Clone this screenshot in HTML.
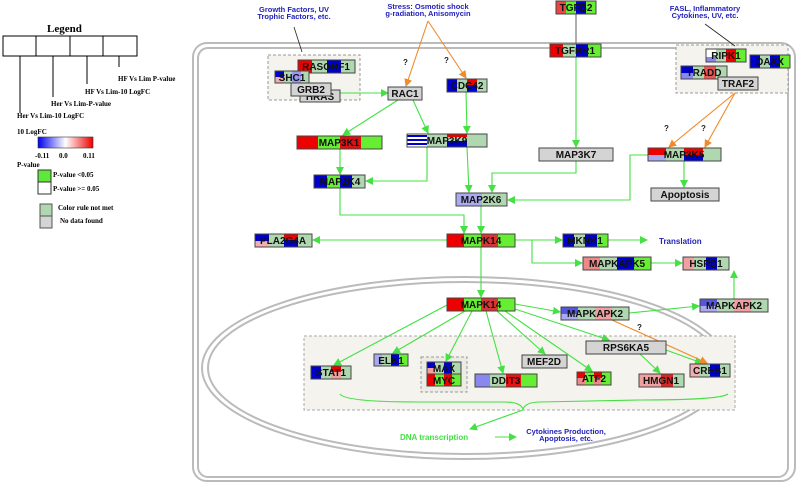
<!DOCTYPE html>
<html><head><meta charset="utf-8"><style>
html,body{margin:0;padding:0;background:#fff;}
svg{display:block;}
.n{font-family:"Liberation Sans",sans-serif;font-weight:bold;font-size:10px;fill:#111;text-anchor:middle;}
.b{font-family:"Liberation Sans",sans-serif;font-weight:bold;font-size:7.5px;fill:#2222bb;text-anchor:middle;}
.l{font-family:"Liberation Serif",serif;font-weight:bold;font-size:7px;fill:#000;}
.q{font-family:"Liberation Sans",sans-serif;font-weight:bold;font-size:8px;fill:#222;}
.g{stroke:#44e044;stroke-width:1.1;fill:none;marker-end:url(#ag);}
.o{stroke:#f08a2a;stroke-width:1.1;fill:none;marker-end:url(#ao);}
.bd{fill:none;stroke:#444;stroke-width:1;}
</style></head><body>
<svg width="797" height="483" viewBox="0 0 797 483" xmlns="http://www.w3.org/2000/svg">
<defs>
<marker id="ag" markerWidth="8" markerHeight="8" refX="7" refY="4" orient="auto" markerUnits="userSpaceOnUse"><path d="M0,0 L8,4 L0,8 z" fill="#44e044"/></marker>
<marker id="ao" markerWidth="8" markerHeight="8" refX="7" refY="4" orient="auto" markerUnits="userSpaceOnUse"><path d="M0,0 L8,4 L0,8 z" fill="#f08a2a"/></marker>
<linearGradient id="lg"><stop offset="0" stop-color="#0000ee"/><stop offset="0.5" stop-color="#ffffff"/><stop offset="1" stop-color="#ee0000"/></linearGradient>
</defs>

<!-- Legend -->
<text x="47" y="32" style="font-family:'Liberation Serif',serif;font-weight:bold;font-size:11px">Legend</text>
<rect x="3" y="36" width="134" height="20" fill="#fff" stroke="#000"/>
<line x1="36" y1="36" x2="36" y2="56" stroke="#000"/><line x1="70" y1="36" x2="70" y2="56" stroke="#000"/><line x1="103" y1="36" x2="103" y2="56" stroke="#000"/>
<line x1="20" y1="56" x2="20" y2="113" stroke="#000"/><line x1="53" y1="56" x2="53" y2="97" stroke="#000"/><line x1="87" y1="56" x2="87" y2="84" stroke="#000"/><line x1="119" y1="56" x2="119" y2="67" stroke="#000"/>
<text class="l" x="17" y="118">Her Vs Lim-10  LogFC</text>
<text class="l" x="51" y="106">Her Vs Lim-P-value</text>
<text class="l" x="85" y="94">HF Vs Lim-10  LogFC</text>
<text class="l" x="118" y="81">HF Vs Lim  P-value</text>
<text class="l" x="17" y="134">10 LogFC</text>
<rect x="38" y="137" width="55" height="11" fill="url(#lg)" stroke="#333" stroke-width="0.6"/>
<text class="l" x="35" y="158">-0.11</text><text class="l" x="59" y="158">0.0</text><text class="l" x="83" y="158">0.11</text>
<text class="l" x="17" y="167">P-value</text>
<rect x="38" y="170" width="13" height="12" fill="#5ee83a" stroke="#333"/>
<rect x="38" y="182" width="13" height="12" fill="#fff" stroke="#333"/>
<text class="l" x="53" y="177">P-value &lt;0.05</text>
<text class="l" x="53" y="191">P-value &gt;= 0.05</text>
<rect x="40" y="204" width="12" height="12" fill="#b0d8b0" stroke="#555"/>
<rect x="40" y="216" width="12" height="12" fill="#d4d4d4" stroke="#555"/>
<text class="l" x="58" y="210">Color rule not met</text>
<text class="l" x="60" y="223">No data found</text>

<!-- cell -->
<rect x="193" y="43" width="602" height="438" rx="14" fill="none" stroke="#bbb" stroke-width="2"/>
<rect x="198" y="48" width="590" height="429" rx="10" fill="none" stroke="#bbb" stroke-width="2"/>
<!-- nucleus -->
<ellipse cx="465" cy="368" rx="263" ry="91" fill="none" stroke="#bbb" stroke-width="2"/>
<ellipse cx="465" cy="368" rx="257" ry="86" fill="none" stroke="#bbb" stroke-width="2"/>
<rect x="304" y="336" width="431" height="74" fill="#f4f3ee" stroke="#aaa" stroke-dasharray="3,2"/>
<rect x="268" y="55" width="92" height="45" fill="#f4f3ee" stroke="#999" stroke-dasharray="3,2"/>
<rect x="676" y="45" width="112" height="48" fill="#f4f3ee" stroke="#999" stroke-dasharray="3,2"/>
<rect x="421" y="357" width="46" height="35" fill="#ecebe4" stroke="#999" stroke-dasharray="3,2"/>

<!-- labels -->
<text class="b" x="294" y="12">Growth Factors, UV</text><text class="b" x="294" y="19">Trophic Factors, etc.</text>
<text class="b" x="428" y="9">Stress: Osmotic shock</text><text class="b" x="428" y="16">g-radiation, Anisomycin</text>
<text class="b" x="705" y="11">FASL, Inflammatory</text><text class="b" x="705" y="18">Cytokines, UV, etc.</text>
<text x="659" y="244" style="font-family:'Liberation Sans',sans-serif;font-weight:bold;font-size:8px;fill:#2222bb">Translation</text>
<text x="400" y="440" style="font-family:'Liberation Sans',sans-serif;font-weight:bold;font-size:8px;fill:#44e044">DNA transcription</text>
<text class="b" x="566" y="434">Cytokines Production,</text><text class="b" x="566" y="441">Apoptosis, etc.</text>
<text class="q" x="403" y="65">?</text><text class="q" x="444" y="63">?</text>
<text class="q" x="664" y="131">?</text><text class="q" x="701" y="131">?</text>
<text class="q" x="637" y="330">?</text>

<!-- plain lines -->
<line x1="294" y1="27" x2="302" y2="52" stroke="#222" stroke-width="0.8"/>
<line x1="705" y1="24" x2="735" y2="46" stroke="#222" stroke-width="0.8"/>
<line x1="576" y1="14" x2="576" y2="44" stroke="#777" stroke-width="1.2"/>

<!-- edges -->
<path class="g" d="M340,93 L388,93"/>
<path class="g" d="M398,100 L343,135"/>
<path class="g" d="M413,100 L428,133"/>
<path class="g" d="M466,92 L467,133"/>
<path class="g" d="M340,149 L340,174"/>
<path class="g" d="M427,147 L427,181 L366,181"/>
<path class="g" d="M467,147 L469,192"/>
<path class="g" d="M576,161 L576,173 L492,173 L492,192"/>
<path class="g" d="M648,155 L630,155 L630,200 L508,200"/>
<path class="g" d="M576,57 L576,147"/>
<path class="g" d="M684,161 L684,187"/>
<path class="g" d="M340,188 L340,215 L464,215 L464,233"/>
<path class="g" d="M481,206 L481,233"/>
<path class="g" d="M447,240 L313,240"/>
<path class="g" d="M515,240 L562,240"/>
<path class="g" d="M532,240 L532,263 L582,263"/>
<path class="g" d="M608,240 L647,240"/>
<path class="g" d="M651,263 L682,263"/>
<path class="g" d="M481,247 L481,297"/>
<path class="g" d="M515,304 L560,312"/>
<path class="g" d="M629,313 L699,306"/>
<path class="g" d="M734,299 L734,271"/>
<path class="g" d="M447,305 L334,365"/>
<path class="g" d="M465,311 L393,353"/>
<path class="g" d="M472,311 L446,361"/>
<path class="g" d="M486,311 L503,373"/>
<path class="g" d="M497,311 L545,354"/>
<path class="g" d="M505,311 L592,371"/>
<path class="g" d="M515,309 L609,340"/>
<path class="g" d="M640,354 L660,373"/>
<path class="g" d="M666,350 L702,363"/>
<path d="M340,394 Q345,402 420,402 L505,402 Q520,402 523,409 Q526,402 540,402 L640,400 Q720,400 728,394" stroke="#44e044" stroke-width="1.1" fill="none"/>
<path class="g" d="M523,410 L470,429"/>
<path class="g" d="M495,437 L516,437"/>
<path class="o" d="M612,320 L707,363"/>
<path class="o" d="M428,21 L406,86"/>
<path class="o" d="M428,21 L466,78"/>
<path class="o" d="M735,93 L669,147"/>
<path class="o" d="M735,93 L705,147"/>

<!-- nodes -->
<!-- HRAS behind -->
<rect x="300" y="90" width="40" height="12" fill="#d4d4d4" stroke="#444"/><text class="n" x="320" y="100">HRAS</text>
<g><rect x="298" y="60" width="14" height="13" fill="#ee0000"/><rect x="312" y="60" width="15" height="13" fill="#b0d8b0"/><rect x="327" y="60" width="14" height="13" fill="#0000cc"/><rect x="341" y="60" width="14" height="13" fill="#b0d8b0"/><rect class="bd" x="298" y="60" width="57" height="13"/><text class="n" x="326" y="70">RASGRF1</text></g>
<g><rect x="275" y="71" width="9" height="6" fill="#0000cc"/><rect x="275" y="77" width="9" height="6" fill="#f0b0b0"/><rect x="284" y="71" width="8" height="12" fill="#b0d8b0"/><rect x="292" y="71" width="9" height="12" fill="#9999ee"/><rect x="301" y="71" width="8" height="12" fill="#b0d8b0"/><rect class="bd" x="275" y="71" width="34" height="12"/><text class="n" x="292" y="81">SHC1</text></g>
<g><rect x="291" y="83" width="40" height="13" fill="#d4d4d4" stroke="#444"/><text class="n" x="311" y="93">GRB2</text></g>
<g><rect x="388" y="87" width="34" height="13" fill="#d4d4d4" stroke="#444"/><text class="n" x="405" y="97">RAC1</text></g>
<g><rect x="447" y="79" width="10" height="13" fill="#0000cc"/><rect x="457" y="79" width="10" height="13" fill="#b0d8b0"/><rect x="467" y="79" width="10" height="6" fill="#ee0000"/><rect x="467" y="85" width="10" height="7" fill="#0000cc"/><rect x="477" y="79" width="10" height="13" fill="#b0d8b0"/><rect class="bd" x="447" y="79" width="40" height="13"/><text class="n" x="467" y="89">CDC42</text></g>
<g><rect x="556" y="1" width="10" height="13" fill="#ee4444"/><rect x="566" y="1" width="10" height="13" fill="#66ee33"/><rect x="576" y="1" width="10" height="13" fill="#0000cc"/><rect x="586" y="1" width="10" height="13" fill="#66ee33"/><rect class="bd" x="556" y="1" width="40" height="13"/><text class="n" x="576" y="11">TGFB2</text></g>
<g><rect x="550" y="44" width="13" height="13" fill="#ee0000"/><rect x="563" y="44" width="13" height="13" fill="#b0d8b0"/><rect x="576" y="44" width="12" height="13" fill="#0000cc"/><rect x="588" y="44" width="13" height="13" fill="#66ee33"/><rect class="bd" x="550" y="44" width="51" height="13"/><text class="n" x="575" y="54">TGFBR1</text></g>
<g><rect x="706" y="49" width="10" height="8" fill="#fff"/><rect x="706" y="57" width="10" height="5" fill="#8888ee"/><rect x="716" y="49" width="10" height="13" fill="#b0d8b0"/><rect x="726" y="49" width="10" height="13" fill="#ee0000"/><rect x="736" y="49" width="10" height="13" fill="#66ee33"/><rect class="bd" x="706" y="49" width="40" height="13"/><text class="n" x="726" y="59">RIPK1</text></g>
<g><rect x="750" y="55" width="10" height="13" fill="#0000cc"/><rect x="760" y="55" width="10" height="13" fill="#b0d8b0"/><rect x="770" y="55" width="10" height="13" fill="#0000cc"/><rect x="780" y="55" width="10" height="13" fill="#66ee33"/><rect class="bd" x="750" y="55" width="40" height="13"/><text class="n" x="770" y="65">DAXX</text></g>
<g><rect x="681" y="66" width="12" height="7" fill="#0000cc"/><rect x="681" y="73" width="12" height="6" fill="#8888ee"/><rect x="693" y="66" width="11" height="13" fill="#b0d8b0"/><rect x="704" y="66" width="12" height="13" fill="#ee5555"/><rect x="716" y="66" width="11" height="13" fill="#b0d8b0"/><rect class="bd" x="681" y="66" width="46" height="13"/><text class="n" x="704" y="76">TRADD</text></g>
<g><rect x="718" y="77" width="40" height="13" fill="#d4d4d4" stroke="#444"/><text class="n" x="738" y="87">TRAF2</text></g>
<g><rect x="297" y="136" width="21" height="13" fill="#ee0000"/><rect x="318" y="136" width="22" height="13" fill="#66ee33"/><rect x="340" y="136" width="21" height="13" fill="#dd1111"/><rect x="361" y="136" width="21" height="13" fill="#66ee33"/><rect class="bd" x="297" y="136" width="85" height="13"/><text class="n" x="339" y="146">MAP3K1</text></g>
<g><rect x="407" y="134" width="20" height="13" fill="#fff"/><rect x="407" y="135" width="20" height="2" fill="#0000cc"/><rect x="407" y="139" width="20" height="2" fill="#0000cc"/><rect x="407" y="143" width="20" height="2" fill="#0000cc"/><rect x="427" y="134" width="20" height="13" fill="#b0d8b0"/><rect x="447" y="134" width="20" height="3" fill="#ee0000"/><rect x="447" y="137" width="20" height="4" fill="#b0d8b0"/><rect x="447" y="141" width="20" height="6" fill="#0000cc"/><rect x="467" y="134" width="20" height="13" fill="#b0d8b0"/><rect class="bd" x="407" y="134" width="80" height="13"/><text class="n" x="447" y="144">MAP3K9</text></g>
<g><rect x="539" y="148" width="74" height="13" fill="#d4d4d4" stroke="#444"/><text class="n" x="576" y="158">MAP3K7</text></g>
<g><rect x="648" y="148" width="18" height="7" fill="#ee0000"/><rect x="648" y="155" width="18" height="6" fill="#aaaaee"/><rect x="666" y="148" width="18" height="13" fill="#b0d8b0"/><rect x="684" y="148" width="19" height="7" fill="#ee0000"/><rect x="684" y="155" width="19" height="6" fill="#0000cc"/><rect x="703" y="148" width="18" height="13" fill="#b0d8b0"/><rect class="bd" x="648" y="148" width="73" height="13"/><text class="n" x="684" y="158">MAP3K5</text></g>
<g><rect x="651" y="188" width="68" height="13" fill="#d4d4d4" stroke="#444"/><text class="n" x="685" y="198">Apoptosis</text></g>
<g><rect x="314" y="175" width="13" height="13" fill="#0000cc"/><rect x="327" y="175" width="13" height="13" fill="#66ee33"/><rect x="340" y="175" width="12" height="13" fill="#0000cc"/><rect x="352" y="175" width="13" height="13" fill="#b0d8b0"/><rect class="bd" x="314" y="175" width="51" height="13"/><text class="n" x="340" y="185">MAP2K4</text></g>
<g><rect x="456" y="193" width="26" height="13" fill="#aaaaee"/><rect x="482" y="193" width="25" height="13" fill="#b0d8b0"/><rect class="bd" x="456" y="193" width="51" height="13"/><text class="n" x="481" y="203">MAP2K6</text></g>
<g><rect x="447" y="234" width="17" height="13" fill="#ee0000"/><rect x="464" y="234" width="17" height="13" fill="#66ee33"/><rect x="481" y="234" width="17" height="13" fill="#dd3333"/><rect x="498" y="234" width="17" height="13" fill="#66ee33"/><rect class="bd" x="447" y="234" width="68" height="13"/><text class="n" x="481" y="244">MAPK14</text></g>
<g><rect x="255" y="234" width="14" height="7" fill="#0000cc"/><rect x="255" y="241" width="14" height="6" fill="#f0b0b0"/><rect x="269" y="234" width="15" height="13" fill="#b0d8b0"/><rect x="284" y="234" width="14" height="6" fill="#ee0000"/><rect x="284" y="240" width="14" height="7" fill="#0000cc"/><rect x="298" y="234" width="14" height="13" fill="#b0d8b0"/><rect class="bd" x="255" y="234" width="57" height="13"/><text class="n" x="283" y="244">PLA2G4A</text></g>
<g><rect x="563" y="234" width="11" height="13" fill="#0000cc"/><rect x="574" y="234" width="11" height="13" fill="#b0d8b0"/><rect x="585" y="234" width="12" height="13" fill="#0000cc"/><rect x="597" y="234" width="11" height="13" fill="#66ee33"/><rect class="bd" x="563" y="234" width="45" height="13"/><text class="n" x="585" y="244">MKNK1</text></g>
<g><rect x="583" y="257" width="17" height="13" fill="#f08888"/><rect x="600" y="257" width="17" height="13" fill="#b0d8b0"/><rect x="617" y="257" width="17" height="13" fill="#0000cc"/><rect x="634" y="257" width="17" height="13" fill="#66ee33"/><rect class="bd" x="583" y="257" width="68" height="13"/><text class="n" x="617" y="267">MAPKAPK5</text></g>
<g><rect x="683" y="257" width="11" height="13" fill="#f0a0a0"/><rect x="694" y="257" width="12" height="13" fill="#b0d8b0"/><rect x="706" y="257" width="11" height="13" fill="#0000cc"/><rect x="717" y="257" width="12" height="13" fill="#b0d8b0"/><rect class="bd" x="683" y="257" width="46" height="13"/><text class="n" x="706" y="267">HSPB1</text></g>
<g><rect x="700" y="299" width="17" height="7" fill="#5555dd"/><rect x="700" y="306" width="17" height="6" fill="#aaaaee"/><rect x="717" y="299" width="17" height="13" fill="#b0d8b0"/><rect x="734" y="299" width="17" height="13" fill="#f0a0a0"/><rect x="751" y="299" width="17" height="13" fill="#b0d8b0"/><rect class="bd" x="700" y="299" width="68" height="13"/><text class="n" x="734" y="309">MAPKAPK2</text></g>
<g><rect x="447" y="298" width="17" height="13" fill="#ee0000"/><rect x="464" y="298" width="17" height="13" fill="#66ee33"/><rect x="481" y="298" width="17" height="13" fill="#dd3333"/><rect x="498" y="298" width="17" height="13" fill="#66ee33"/><rect class="bd" x="447" y="298" width="68" height="13"/><text class="n" x="481" y="308">MAPK14</text></g>
<g><rect x="561" y="307" width="17" height="7" fill="#5555dd"/><rect x="561" y="314" width="17" height="6" fill="#aaaaee"/><rect x="578" y="307" width="17" height="13" fill="#b0d8b0"/><rect x="595" y="307" width="17" height="13" fill="#f0a0a0"/><rect x="612" y="307" width="17" height="13" fill="#b0d8b0"/><rect class="bd" x="561" y="307" width="68" height="13"/><text class="n" x="595" y="317">MAPKAPK2</text></g>
<g><rect x="586" y="341" width="80" height="13" fill="#d4d4d4" stroke="#444"/><text class="n" x="626" y="351">RPS6KA5</text></g>
<g><rect x="522" y="355" width="45" height="13" fill="#d4d4d4" stroke="#444"/><text class="n" x="544" y="365">MEF2D</text></g>
<g><rect x="690" y="364" width="10" height="13" fill="#f0b0b0"/><rect x="700" y="364" width="10" height="13" fill="#b0d8b0"/><rect x="710" y="364" width="10" height="13" fill="#0000cc"/><rect x="720" y="364" width="10" height="13" fill="#b0d8b0"/><rect class="bd" x="690" y="364" width="40" height="13"/><text class="n" x="710" y="374">CREB1</text></g>
<g><rect x="639" y="374" width="22" height="13" fill="#f0a0a0"/><rect x="661" y="374" width="12" height="13" fill="#dd2222"/><rect x="673" y="374" width="11" height="13" fill="#b0d8b0"/><rect class="bd" x="639" y="374" width="45" height="13"/><text class="n" x="661" y="384">HMGN1</text></g>
<g><rect x="577" y="372" width="8" height="6" fill="#ee0000"/><rect x="577" y="378" width="8" height="7" fill="#f08888"/><rect x="585" y="372" width="9" height="13" fill="#66ee33"/><rect x="594" y="372" width="8" height="6" fill="#ee0000"/><rect x="594" y="378" width="8" height="7" fill="#f08888"/><rect x="602" y="372" width="9" height="13" fill="#66ee33"/><rect class="bd" x="577" y="372" width="34" height="13"/><text class="n" x="594" y="382">ATF2</text></g>
<g><rect x="475" y="374" width="15" height="13" fill="#8888ee"/><rect x="490" y="374" width="16" height="13" fill="#b0d8b0"/><rect x="506" y="374" width="15" height="13" fill="#ee1111"/><rect x="521" y="374" width="16" height="13" fill="#66ee33"/><rect class="bd" x="475" y="374" width="62" height="13"/><text class="n" x="506" y="384">DDIT3</text></g>
<g><rect x="427" y="362" width="8" height="6" fill="#0000cc"/><rect x="427" y="368" width="8" height="6" fill="#f0a0a0"/><rect x="435" y="362" width="9" height="12" fill="#b0d8b0"/><rect x="444" y="362" width="8" height="12" fill="#0000cc"/><rect x="452" y="362" width="9" height="12" fill="#b0d8b0"/><rect class="bd" x="427" y="362" width="34" height="12"/><text class="n" x="444" y="372">MAX</text></g>
<g><rect x="427" y="374" width="8" height="12" fill="#ee0000"/><rect x="435" y="374" width="9" height="12" fill="#66ee33"/><rect x="444" y="374" width="8" height="12" fill="#ee0000"/><rect x="452" y="374" width="9" height="12" fill="#66ee33"/><rect class="bd" x="427" y="374" width="34" height="12"/><text class="n" x="444" y="384">MYC</text></g>
<g><rect x="374" y="354" width="8" height="12" fill="#aaaaee"/><rect x="382" y="354" width="9" height="12" fill="#b0d8b0"/><rect x="391" y="354" width="8" height="12" fill="#0000cc"/><rect x="399" y="354" width="9" height="12" fill="#66ee33"/><rect class="bd" x="374" y="354" width="34" height="12"/><text class="n" x="391" y="364">ELK1</text></g>
<g><rect x="311" y="366" width="10" height="13" fill="#0000cc"/><rect x="321" y="366" width="10" height="13" fill="#b0d8b0"/><rect x="331" y="366" width="10" height="6" fill="#ee0000"/><rect x="331" y="372" width="10" height="7" fill="#f0a0a0"/><rect x="341" y="366" width="10" height="13" fill="#b0d8b0"/><rect class="bd" x="311" y="366" width="40" height="13"/><text class="n" x="331" y="376">STAT1</text></g>
</svg>
</body></html>
